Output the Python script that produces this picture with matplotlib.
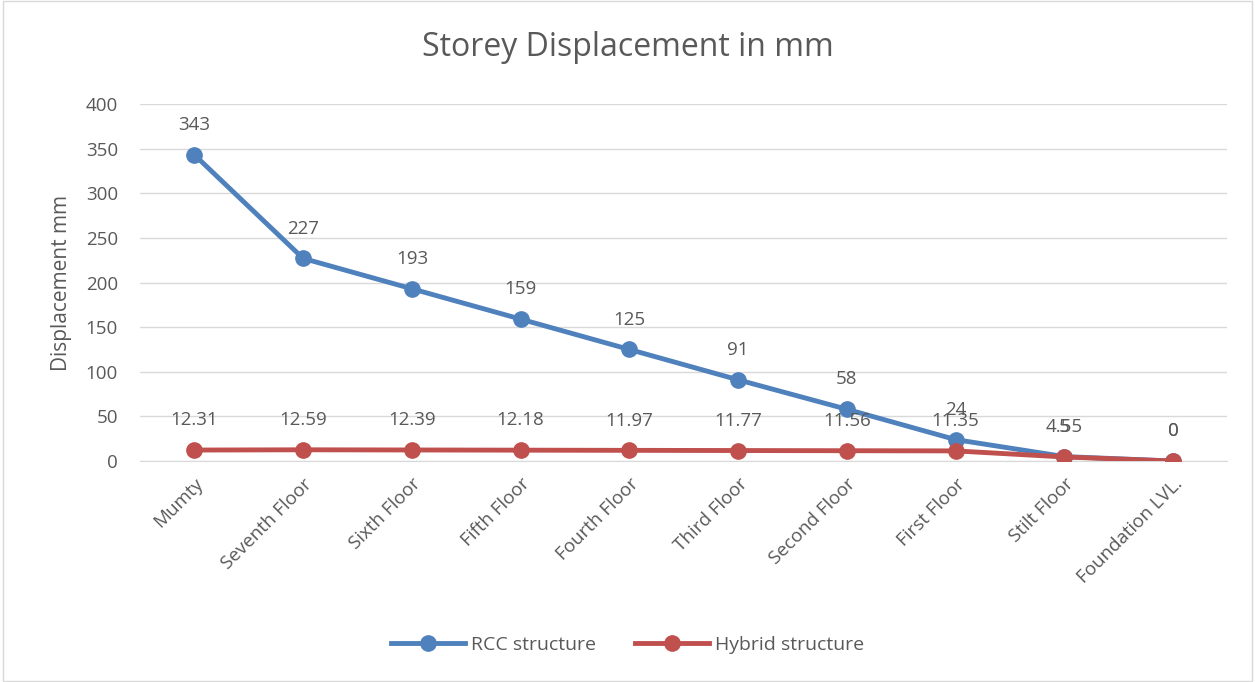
import matplotlib.pyplot as plt

floors = ["Mumty", "Seventh Floor", "Sixth Floor", "Fifth Floor", "Fourth Floor",
          "Third Floor", "Second Floor", "First Floor", "Stilt Floor", "Foundation LVL."]
rcc = [343, 227, 193, 159, 125, 91, 58, 24, 5, 0]
hybrid = [12.31, 12.59, 12.39, 12.18, 11.97, 11.77, 11.56, 11.35, 4.55, 0]
rcc_labels = ["343", "227", "193", "159", "125", "91", "58", "24", "5", "0"]
hybrid_labels = ["12.31", "12.59", "12.39", "12.18", "11.97", "11.77", "11.56", "11.35", "4.55", "0"]

plt.rcParams['font.family'] = ['Open Sans', 'DejaVu Sans']
blue = "#4F81BD"
red = "#C0504D"
txt = "#595959"

fig = plt.figure(figsize=(12.55, 6.82), dpi=100)
ax = fig.add_axes([0.1116, 0.324, 0.8664, 0.5235])
x = list(range(len(floors)))

ax.plot(x, rcc, color=blue, lw=3.5, marker="o", ms=11, label="RCC structure", zorder=3)
ax.plot(x, hybrid, color=red, lw=3.5, marker="o", ms=11, label="Hybrid structure", zorder=4)

for i in x:
    ax.annotate(rcc_labels[i], (i, rcc[i]), xytext=(0, 15), textcoords="offset points",
                ha="center", va="bottom", fontsize=13.5, color=txt)
    ax.annotate(hybrid_labels[i], (i, hybrid[i]), xytext=(0, 15), textcoords="offset points",
                ha="center", va="bottom", fontsize=13.5, color=txt)

ax.set_xlim(-0.5, len(floors) - 0.5)
ax.set_ylim(0, 400)
ax.set_yticks(range(0, 401, 50))
ax.set_xticks(x)
ax.set_xticklabels(floors, rotation=45, ha="right", rotation_mode="anchor")
ax.tick_params(axis="both", length=0, labelsize=13.5, colors=txt)
ax.tick_params(axis="y", pad=16)
ax.tick_params(axis="x", pad=10)
ax.grid(axis="y", color="#D9D9D9", lw=1)
ax.set_axisbelow(True)
for s in ["top", "right", "left"]:
    ax.spines[s].set_visible(False)
ax.spines["bottom"].set_color("#D9D9D9")
ax.set_ylabel("Displacement mm", fontsize=15, color=txt, labelpad=10)

fig.suptitle("Storey Displacement in mm", y=0.955, fontsize=23, color=txt)
fig.legend(loc="lower center", bbox_to_anchor=(0.5, 0.015), ncol=2, frameon=False,
           fontsize=14, labelcolor=txt, handlelength=3.8, columnspacing=2.0, handletextpad=0.3)

fig.patches.append(plt.Rectangle((0.002, 0.002), 0.996, 0.996, transform=fig.transFigure,
                                 fill=False, edgecolor="#D9D9D9", lw=1))
fig.savefig("out.png", dpi=100)
